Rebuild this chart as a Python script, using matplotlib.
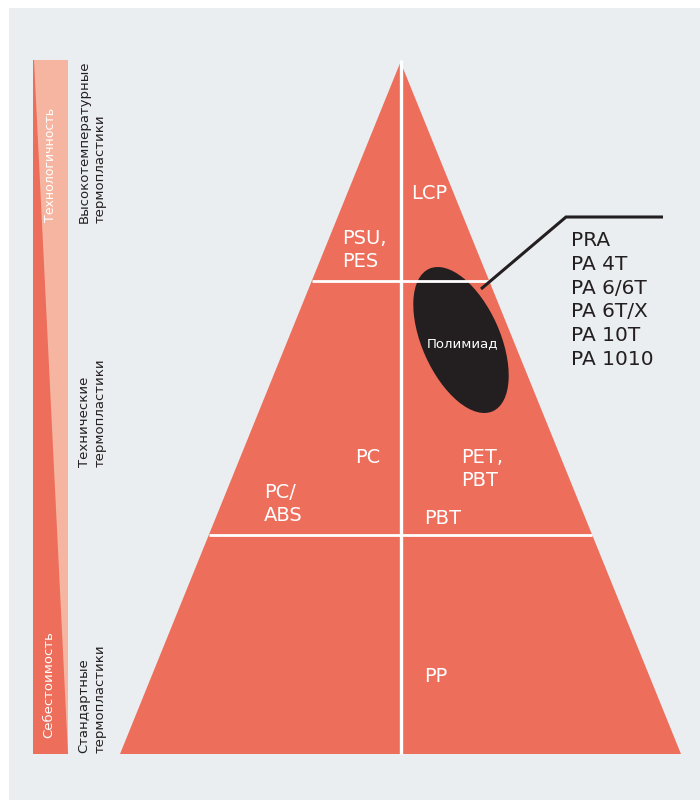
"""Thermoplastics pyramid: cost vs. processability, with polyamide grades."""

import matplotlib

matplotlib.use("Agg")
import matplotlib.pyplot as plt
from matplotlib.patches import Ellipse, Polygon, Rectangle

# --- data ---------------------------------------------------------------
tier_names = [
    "Высокотемпературные\nтермопластики",
    "Технические\nтермопластики",
    "Стандартные\nтермопластики",
]
axis_top_label = "Технологичность"
axis_bottom_label = "Себестоимость"
material_labels = ["LCP", "PSU,\nPES", "PC", "PC/\nABS", "PET,\nPBT", "PBT", "PP"]
polyamide_label = "Полимиад"
polyamide_grades = ["PRA", "PA 4T", "PA 6/6T", "PA 6T/X", "PA 10T", "PA 1010"]

# --- style --------------------------------------------------------------
BG = "#eaeef1"
RED = "#ed6e5b"
LIGHT = "#f6b5a0"
DARK = "#231f20"
FONT = "DejaVu Sans"

# --- layout (pixel coordinates, y down) ---------------------------------
APEX = (400.5, 62)
BASE_Y = 754
BASE_HALF = 280.5
TIER_LINES = [281, 535]
BAR = (33, 60, 68, 754)  # x0, y0, x1, y1
tier_label_bottoms = [223, 467, 753]
label_anchor = [(411, 199), (342, 244), (355, 463), (264, 498), (461, 463), (424, 524), (424, 682)]
LINE_STEP = 23

fig = plt.figure(figsize=(7, 8), dpi=100, facecolor="white")
ax = fig.add_axes([0, 0, 1, 1])
ax.set_xlim(0, 700)
ax.set_ylim(800, 0)
ax.set_axis_off()

ax.add_patch(Rectangle((9, 8), 691, 792, facecolor=BG, edgecolor="none"))


def half_width(y):
    return BASE_HALF * (y - APEX[1]) / (BASE_Y - APEX[1])


# pyramid
cx = APEX[0]
ax.add_patch(Polygon([APEX, (cx - BASE_HALF, BASE_Y), (cx + BASE_HALF, BASE_Y)],
                     closed=True, facecolor=RED, edgecolor="none"))
for y in TIER_LINES:
    w = half_width(y)
    ax.plot([cx - w, cx + w], [y, y], color="white", lw=2, solid_capstyle="butt")
ax.plot([cx, cx], [APEX[1] - 2, BASE_Y], color="white", lw=2.4, solid_capstyle="butt")

# material names inside pyramid
for text, (x, y) in zip(material_labels, label_anchor):
    for i, line in enumerate(text.split("\n")):
        ax.text(x, y + i * LINE_STEP, line, color="white", fontsize=14, family=FONT,
                ha="left", va="baseline")

# polyamide ellipse and callout
ax.add_patch(Ellipse((461, 340), 78, 156, angle=-24, facecolor=DARK, edgecolor="none"))
ax.text(462, 342, polyamide_label, color="white", fontsize=9.5, family=FONT,
        ha="center", va="center_baseline")
ax.plot([481, 566, 663], [289, 217, 217], color=DARK, lw=2.2, solid_capstyle="butt",
        solid_joinstyle="miter")
for i, grade in enumerate(polyamide_grades):
    ax.text(571, 246 + i * 23.8, grade, color=DARK, fontsize=14.5, family=FONT,
            ha="left", va="baseline")

# left gradient bar
x0, y0, x1, y1 = BAR
ax.add_patch(Rectangle((x0, y0), x1 - x0, y1 - y0, facecolor=LIGHT, edgecolor="none"))
ax.add_patch(Polygon([(x0, y0), (x0 + 1, y0), (x1, y1), (x0, y1)], closed=True,
                     facecolor=RED, edgecolor="none"))
ax.text(50, 222, axis_top_label, color="white", fontsize=9, family=FONT,
        rotation=90, ha="center", va="bottom")
ax.text(49, 738, axis_bottom_label, color="white", fontsize=9.5, family=FONT,
        rotation=90, ha="center", va="bottom")

# tier names
for name, bottom in zip(tier_names, tier_label_bottoms):
    for i, line in enumerate(name.split("\n")):
        ax.text(84 + i * 16.5, bottom, line, color=DARK, fontsize=9.5, family=FONT,
                rotation=90, ha="center", va="bottom")

fig.savefig("out.png", dpi=100, facecolor="white")
plt.close(fig)
